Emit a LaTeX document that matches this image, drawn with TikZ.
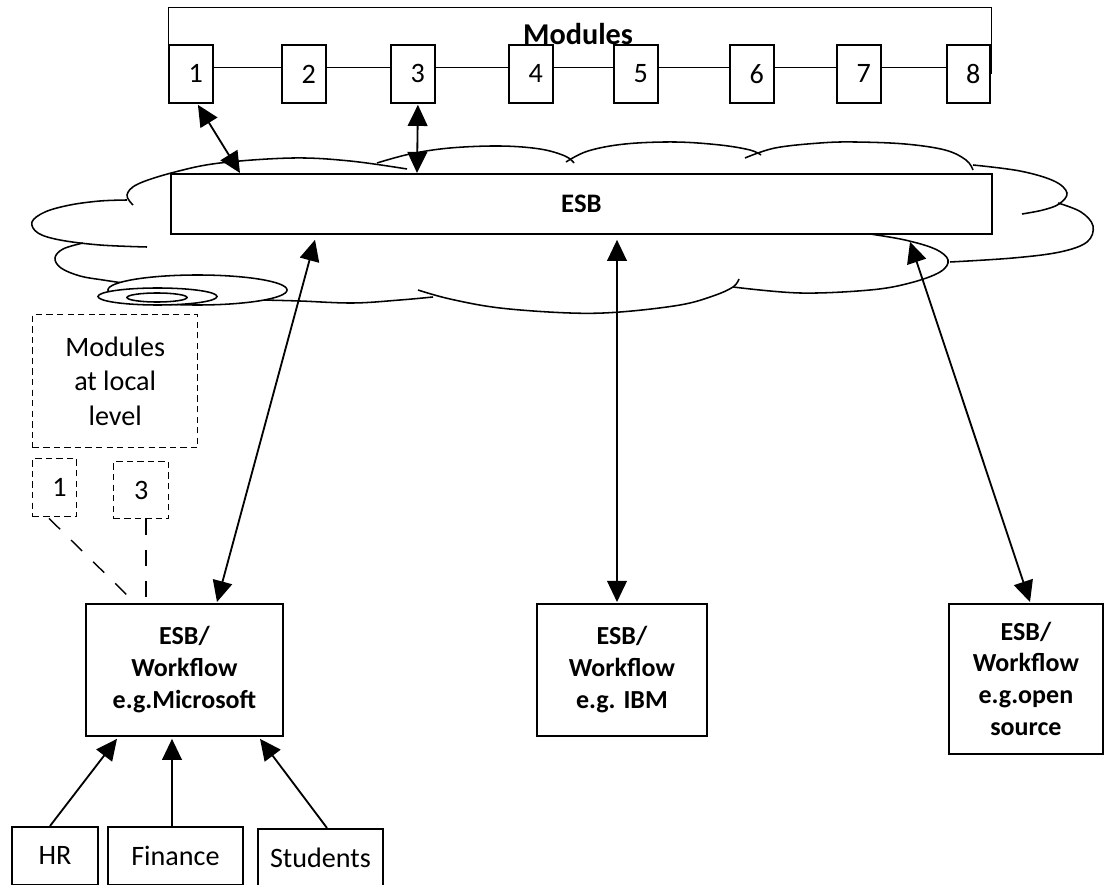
\documentclass[tikz,border=0pt]{standalone}
\usepackage{fontspec}
\setmainfont{Carlito}
\usetikzlibrary{arrows.meta,calc,backgrounds}
\newcommand\PXbox[6]{\node[#1, minimum width={(#4-#2)*0.025cm}, minimum height={(#5-#3)*0.025cm}] (#6) at (#2,#3)}
\newcommand\dg[1]{\hspace*{7pt}#1}
\begin{document}
\begin{tikzpicture}[x=0.025cm,y=-0.025cm, line width=1.3pt,
  box/.style={draw, fill=white, inner sep=0pt, anchor=north west, align=center},
  dbox/.style={box, dash pattern=on 4.5pt off 3pt, line width=1pt},
  reg/.style={font=\fontsize{20}{24.5}\selectfont},
  bld/.style={font=\fontsize{18.5}{22.7}\selectfont\bfseries},
  tri/.style={-{Triangle[length=15pt,width=14pt]}},
  dtri/.style={{Triangle[length=15pt,width=14pt]}-{Triangle[length=15pt,width=14pt]}},
  longdash/.style={dash pattern=on 11pt off 11pt, line width=1pt},
  cloudline/.style={line width=1.1pt}]
\useasboundingbox (0,0) rectangle (1110,885);

% module boxes
\PXbox{box,reg}{168}{44}{212}{102}{m1} {\dg{1}};
\PXbox{box,reg}{281}{44}{325}{102}{m2} {\dg{2}};
\PXbox{box,reg}{390}{44}{434}{102}{m3} {\dg{3}};
\PXbox{box,reg}{508}{44}{552}{102}{m4} {\dg{4}};
\PXbox{box,reg}{613}{44}{657}{102}{m5} {\dg{5}};
\PXbox{box,reg}{729}{44}{773}{102}{m6} {\dg{6}};
\PXbox{box,reg}{836}{44}{880}{102}{m7} {\dg{7}};
\PXbox{box,reg}{946}{44}{989}{102}{m8} {\dg{8}};

% ESB bar
\PXbox{box}{170}{173}{991}{233}{esb} {\fontsize{19}{23}\selectfont\bfseries ESB};

% local modules
\PXbox{dbox,reg}{32}{314}{197}{447}{local} {Modules\\at local\\level};
\PXbox{dbox,reg}{32}{458}{76}{516}{d1} {\dg{1}};
\PXbox{dbox,reg}{113}{461}{168}{518}{d3} {3};

% workflow boxes
\PXbox{box,bld}{85}{603}{282}{735}{ms} {ESB/\\Workflow\\e.g.Microsoft};
\PXbox{box,bld}{536}{603}{706}{735}{ibm} {ESB/\\Workflow\\e.g. IBM};
\PXbox{box,bld}{948}{603}{1102}{753}{os} {ESB/\\Workflow\\e.g.open\\source};

% bottom boxes
\PXbox{box,reg}{11}{826}{97}{884}{hr} {HR};
\PXbox{box,reg}{107}{826}{242}{884}{fin} {Finance};
\PXbox{box,reg}{257}{828}{382}{886}{stu} {Students};

\node[font=\fontsize{21.5}{25}\selectfont\bfseries, anchor=base] (modlabel) at (578,45) {Modules};

\begin{scope}[on background layer]
  \fill[white] (0,0) rectangle (1110,885);
  \draw (m1.west) -- ++(0,-67) -| (m8.east);
  \draw ([yshift=0.175cm]m1.east) -- ([yshift=0.175cm]m8.west);
  % cloud
  \begin{scope}[cloudline]
  \draw plot[smooth, tension=0.6] coordinates {(133,205) (127,195) (138,184) (175,172) (220,163) (293,158) (350,161) (407,169)};
  \draw plot[smooth, tension=0.6] coordinates {(377,163) (410,154) (450,148) (500,146) (540,149) (565,156) (574,163)};
  \draw plot[smooth, tension=0.6] coordinates {(566,162) (588,151) (625,144) (675,142) (720,145) (750,150) (761,155)};
  \draw plot[smooth, tension=0.6] coordinates {(745,158) (775,148) (820,143) (855,142) (905,144) (945,150) (966,160) (973,170)};
  \draw plot[smooth, tension=0.6] coordinates {(973,165) (1020,171) (1054,181) (1067,193) (1059,204) (1043,210) (1022,214)};
  \draw plot[smooth, tension=0.6] coordinates {(1058,203) (1081,212) (1093,226) (1087,242) (1060,252) (1013,258) (950,262)};
  \draw plot[smooth, tension=0.6] coordinates {(870,234) (905,240) (935,249) (948,260) (940,272) (910,283) (870,290) (800,293) (733,287)};
  \draw plot[smooth, tension=0.6] coordinates {(739,279) (733,287) (713,296) (680,305) (620,312) (570,313) (500,308) (450,299) (418,290)};
  \draw plot[smooth, tension=0.6] coordinates {(433,297) (400,300) (353,303) (300,301) (262,300)};
  \draw plot[smooth, tension=0.6] coordinates {(127,200) (100,201) (70,205) (45,212) (32,222) (38,233) (60,240) (100,245) (147,247)};
  \draw plot[smooth, tension=0.6] coordinates {(83,243) (63,249) (55,258) (61,268) (80,276) (103,280) (130,284)};
  \draw[fill=white] (197.5,290) ellipse [x radius=2.2375cm, y radius=0.375cm];
  \draw[fill=white] (157.5,296.5) ellipse [x radius=1.4875cm, y radius=0.2125cm];
  \draw[fill=white] (157,297.5) ellipse [x radius=0.75cm, y radius=0.1125cm];
  \end{scope}
\end{scope}

% arrows modules <-> ESB
\draw[dtri] ($(m1.south)+(7,1)$) -- ($(esb.north west)+(70,0)$);
\draw[dtri] ($(m3.south)+(5,1)$) -- ($(esb.north west)+(247,0)$);
% ESB <-> workflows
\draw[dtri] ($(esb.south west)+(145,5)$) -- ($(ms.north west)+(132,-1)$);
\draw[dtri] ($(esb.south west)+(447,5)$) -- ($(ibm.north west)+(81,-1)$);
\draw[dtri] ($(esb.south west)+(740,7)$) -- ($(os.north west)+(82,-1)$);
% sources -> Microsoft
\draw[tri] ($(hr.north west)+(39,0)$) -- ($(ms.south west)+(32,2)$);
\draw[tri] ($(fin.north west)+(65,0)$) -- ($(ms.south west)+(87,2)$);
\draw[tri] ($(stu.north west)+(70,0)$) -- ($(ms.south west)+(175,2)$);
% dashed links
\draw[longdash] ($(d1.south west)+(17,1)$) -- ($(ms.north west)+(43,-7)$);
\draw[longdash] ($(d3.south west)+(33,0)$) -- ($(ms.north west)+(61,0)$);
\end{tikzpicture}
\end{document}
